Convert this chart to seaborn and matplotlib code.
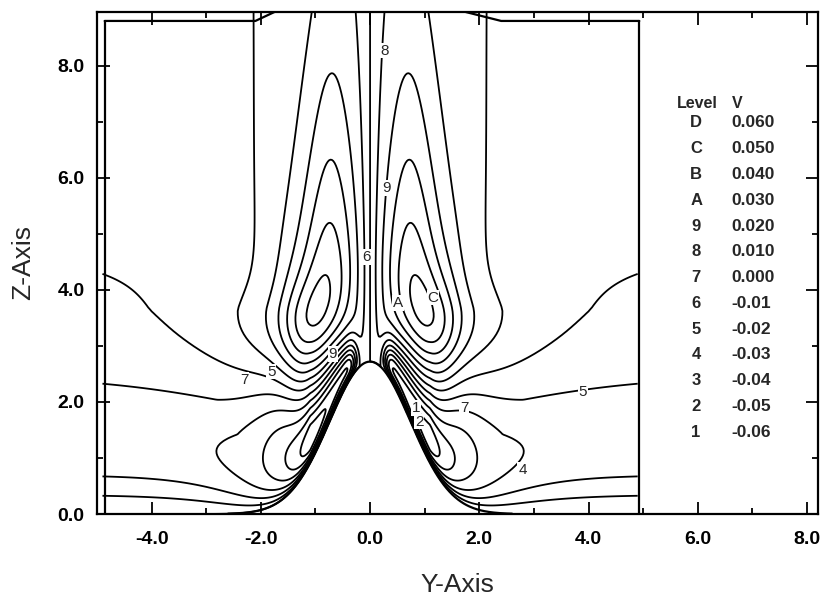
import numpy as np
import pandas as pd
import matplotlib
matplotlib.use("Agg")
import matplotlib.pyplot as plt
import seaborn as sns

# ------------------------------------------------------------------ data
level_codes = ["D", "C", "B", "A", "9", "8", "7", "6", "5", "4", "3", "2", "1"]
level_values = [0.060, 0.050, 0.040, 0.030, 0.020, 0.010, 0.000,
                -0.01, -0.02, -0.03, -0.04, -0.05, -0.06]
level_text = ["0.060", "0.050", "0.040", "0.030", "0.020", "0.010", "0.000",
              "-0.01", "-0.02", "-0.03", "-0.04", "-0.05", "-0.06"]

x_ticks = [-4.0, -2.0, 0.0, 2.0, 4.0, 6.0, 8.0]
z_ticks = [0.0, 2.0, 4.0, 6.0, 8.0]
x_limits = [-4.96, 8.2]
z_limits = [0.0, 8.96]

# body (hill) geometry and computational domain
hill_height = 2.72
hill_scale = 1.1
domain_y = [-4.9, 4.9]
domain_top = 8.96
frame_y = [-4.86, 4.93]
frame_top = 8.8
frame_gap = [-2.1, 2.4]
frame_gap_top = [-1.75, 1.75]

# flow-feature parameters (right half, V antisymmetric)
lobe_amp = 0.08
lobe_center = [0.95, 3.65]
lobe_x_top = 0.72
lobe_width = [0.74, 0.55]
lobe_tail = 0.8
lobe_up_decay = 3.3
lobe_down_decay = 1.5
jet_amp = 0.006
jet_width = 0.18
jet_extent = 0.7
far_amp = -0.027
far_peak = 1.4
far_decay = 3.2
far_spread = 1.6
near_amp = -0.068
near_thick = [0.15, 0.6]
near_center = 1.1
near_decay = 0.8
wall_layer = 0.06

# contour labels as printed on the chart: (code, y, z)
label_text = ["8", "9", "6", "A", "C", "7", "5", "9", "1", "2", "7", "5", "4"]
label_y = [0.27, 0.30, -0.07, 0.51, 1.15, -2.30, -1.81, -0.68, 0.84, 0.90, 1.72, 3.90, 2.79]
label_z = [8.27, 5.82, 4.59, 3.77, 3.86, 2.39, 2.54, 2.86, 1.89, 1.65, 1.89, 2.18, 0.79]

# ------------------------------------------------------------------ field
def hill(y):
    return hill_height * np.exp(-y ** 2 / hill_scale)

ny, nz = 400, 150
yy = np.linspace(domain_y[0], domain_y[1], ny)
eta = np.linspace(0.0, 1.0, nz) ** 1.8
Y = np.tile(yy, (nz, 1))
H = hill(Y)
Z = H + (domain_top - H) * eta[:, None]
HT = Z - H   # height above the surface

# distance to the body surface
ys = np.linspace(domain_y[0], domain_y[1], 700)
hs = hill(ys)
DN = np.empty_like(Y)
for i in range(nz):
    d2 = (Y[i][:, None] - ys[None, :]) ** 2 + (Z[i][:, None] - hs[None, :]) ** 2
    DN[i] = np.sqrt(d2.min(axis=1))
DN = np.minimum(DN, HT)


def lobe(y, z):
    dz = z - lobe_center[1]
    yc = lobe_x_top + (lobe_center[0] - lobe_x_top) * (1 - np.tanh(dz / 0.8))
    w = lobe_width[1] + (lobe_width[0] - lobe_width[1]) * np.exp(-np.clip(dz, 0, None) / 1.5)
    u = (y - yc) / w
    fy = (1.0 + u ** 2) ** (-lobe_tail)
    up = np.exp(-(np.sqrt(dz ** 2 + 0.25) - 0.5) / lobe_up_decay)
    down = np.exp(-(dz / lobe_down_decay) ** 2)
    return lobe_amp * fy * np.where(dz > 0, up, down)


def far_profile(d):
    r = np.clip(d, 0, None) / far_peak
    low = r ** 1.5 * np.exp(1.5 * (1 - r))
    dd = np.clip(d - far_peak, 0, None)
    high = np.exp(-(np.sqrt(dd ** 2 + 0.04) - 0.2) / far_decay)
    return np.where(r < 1, low, high)


def near(y, dn):
    yp = np.clip(y, 0, None)
    env = (1 - np.exp(-(yp / 0.3) ** 4)) * np.exp(-np.clip(yp - near_center, 0, None) / near_decay)
    th = near_thick[0] + (near_thick[1] - near_thick[0]) * 0.5 * (1 + np.tanh((yp - 1.6) / 0.4))
    r = dn / th
    return near_amp * env * r * np.exp(1 - r)


wall = 1 - np.exp(-DN / wall_layer)
jet = jet_amp * np.tanh(Y / jet_width) * np.exp(-(Y / jet_extent) ** 2)
V = wall * (lobe(Y, Z) - lobe(-Y, Z) + jet)
V += far_amp * np.tanh(Y / far_spread) * far_profile(HT)
V += near(Y, DN) - near(-Y, DN)

# ------------------------------------------------------------------ plot
sns.set_theme(style="ticks")
plt.rcParams["font.family"] = ["Liberation Sans", "DejaVu Sans"]

fig = plt.figure(figsize=(8.27, 5.99), dpi=100)
ax = fig.add_axes([0.1173, 0.1419, 0.8717, 0.8381])

levels = sorted(level_values)
ax.contour(Y, Z, V, levels=levels, colors="black", linewidths=1.3, linestyles="solid")

# body surface
hy = np.linspace(-2.6, 2.6, 300)
sns.lineplot(x=hy, y=hill(hy), color="black", linewidth=1.6, ax=ax, sort=False)

# computational-domain frame
lw = 1.6
ax.plot([frame_y[0], frame_y[0]], [0, frame_top], color="black", lw=lw)
ax.plot([frame_y[1], frame_y[1]], [0, frame_top], color="black", lw=lw)
ax.plot([frame_y[0], frame_gap[0], frame_gap_top[0]],
        [frame_top, frame_top, domain_top], color="black", lw=lw)
ax.plot([frame_gap_top[1], frame_gap[1], frame_y[1]],
        [domain_top, frame_top, frame_top], color="black", lw=lw)

for t, xl, zl in zip(label_text, label_y, label_z):
    ax.text(xl, zl, t, ha="center", va="center", fontsize=11,
            bbox=dict(boxstyle="square,pad=0.05", fc="white", ec="none"))

# level table
tx_code, tx_val = 5.97, 6.62
ax.text(6.0, 7.33, "Level", fontsize=11.5, fontweight="bold", ha="center", va="center")
ax.text(tx_val, 7.33, "V", fontsize=11.5, fontweight="bold", ha="left", va="center")
for i, (c, v) in enumerate(zip(level_codes, level_text)):
    zrow = 6.98 - i * 0.46
    ax.text(tx_code, zrow, c, fontsize=12, fontweight="bold", ha="center", va="center")
    ax.text(tx_val, zrow, v, fontsize=12.5, fontweight="bold", ha="left", va="center")

ax.set_xlim(*x_limits)
ax.set_ylim(*z_limits)
ax.set_xticks(x_ticks)
ax.set_yticks(z_ticks)
ax.set_xticklabels([f"{t:.1f}" for t in x_ticks], fontsize=14, fontweight="bold")
ax.set_yticklabels([f"{t:.1f}" for t in z_ticks], fontsize=14, fontweight="bold")
ax.set_xticks(np.arange(-5, 9, 1.0), minor=True)
ax.set_yticks(np.arange(1, 9, 1.0), minor=True)
ax.tick_params(which="both", direction="in", top=True, right=True, width=1.3, colors="black")
ax.tick_params(which="major", length=9)
ax.tick_params(axis="x", which="major", pad=12)
ax.tick_params(axis="y", which="major", pad=9)
ax.tick_params(which="minor", length=4.5)
for s in ax.spines.values():
    s.set_linewidth(1.6)
    s.set_color("black")
ax.set_xlabel("Y-Axis", fontsize=19, labelpad=18)
ax.set_ylabel("Z-Axis", fontsize=19, labelpad=16)

fig.savefig("out.png", dpi=100)
